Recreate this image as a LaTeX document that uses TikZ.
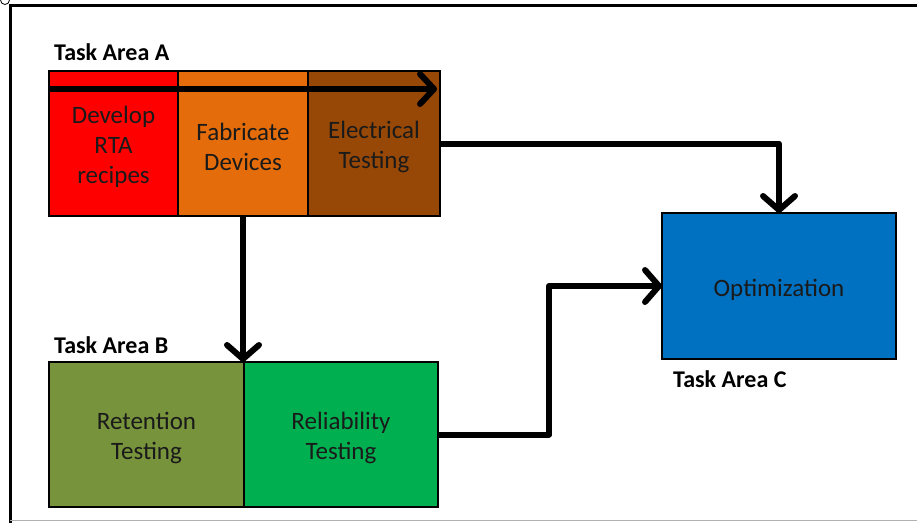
\documentclass[tikz,border=0pt]{standalone}
\usepackage{fontspec}
\setmainfont{Carlito}
\usetikzlibrary{arrows.meta}
\definecolor{cRed}{HTML}{FF0000}
\definecolor{cOrange}{HTML}{E46C0A}
\definecolor{cBrown}{HTML}{974806}
\definecolor{cOlive}{HTML}{77933C}
\definecolor{cGreen}{HTML}{00B050}
\definecolor{cBlue}{HTML}{0070C0}
\definecolor{cText}{HTML}{1A1A1A}
\tikzset{
  cell/.style={draw=black, line width=2.5pt, rectangle, inner sep=0pt, outer sep=0pt},
  celltext/.style={align=center, text=cText, inner sep=0pt, yshift=-3.5pt,
    font=\fontsize{25}{30}\selectfont},
  tasklabel/.style={anchor=west, inner sep=0pt, font=\bfseries\fontsize{24}{28}\selectfont},
  flow/.style={line width=6pt, line join=round,
    -{Straight Barb[length=14pt, width=32pt, line cap=round, line join=round]}},
}
\begin{document}
\begin{tikzpicture}[x=1pt, y=-1pt]
\useasboundingbox (0,0) rectangle (917,522);
\fill[white] (0,0) rectangle (917,522);
% frame
\draw[line width=3pt] (10,5) -- (918,5);
\draw[line width=3pt] (10,4) -- (10,523);
\draw[line width=1.2pt, gray!60] (10,520.5) -- (918,520.5);
\draw[line width=0.8pt] (5,0) circle (4.5);

% Task Area A
\node[cell, fill=cRed, minimum width=129pt, minimum height=145pt,
  label={[celltext]center:{Develop\\RTA\\recipes}}] (dev) at (113.5,143.5) {};
\node[cell, fill=cOrange, minimum width=130pt, minimum height=145pt,
  label={[celltext]center:{Fabricate\\Devices}}] (fab) at (243,143.5) {};
\node[cell, fill=cBrown, minimum width=132pt, minimum height=145pt,
  label={[celltext]center:{Electrical\\Testing}}] (elec) at (374,143.5) {};
\node[tasklabel] (labA) at (54,52) {Task Area A};
\coordinate (stripS) at ([yshift=-18pt]dev.north west);
\coordinate (stripE) at ([yshift=-18pt]elec.north east);
\draw[line width=6pt, -{Straight Barb[length=14pt, width=30pt, line cap=round, line join=round]}] ([xshift=1pt]stripS) -- ([xshift=-3pt]stripE);

% Task Area B
\node[cell, fill=cOlive, minimum width=195pt, minimum height=145pt,
  label={[celltext]center:{Retention\\Testing}}] (ret) at (146.5,434.5) {};
\node[cell, fill=cGreen, minimum width=194pt, minimum height=145pt,
  label={[celltext]center:{Reliability\\Testing}}] (rel) at (341,434.5) {};
\node[tasklabel] (labB) at (54,345) {Task Area B};

% Task Area C
\node[cell, fill=cBlue, minimum width=234pt, minimum height=146pt,
  label={[celltext]center:{Optimization}}] (opt) at (779,286) {};
\node[tasklabel] (labC) at (673,379) {Task Area C};

% connectors
\draw[flow] (fab.south) -- (fab.south |- ret.north);
\draw[flow] (elec.east) -| (opt.north);
\coordinate (bend) at (549,434.5);
\draw[flow] (rel.east) -- (bend) |- (opt.west);
\end{tikzpicture}
\end{document}
